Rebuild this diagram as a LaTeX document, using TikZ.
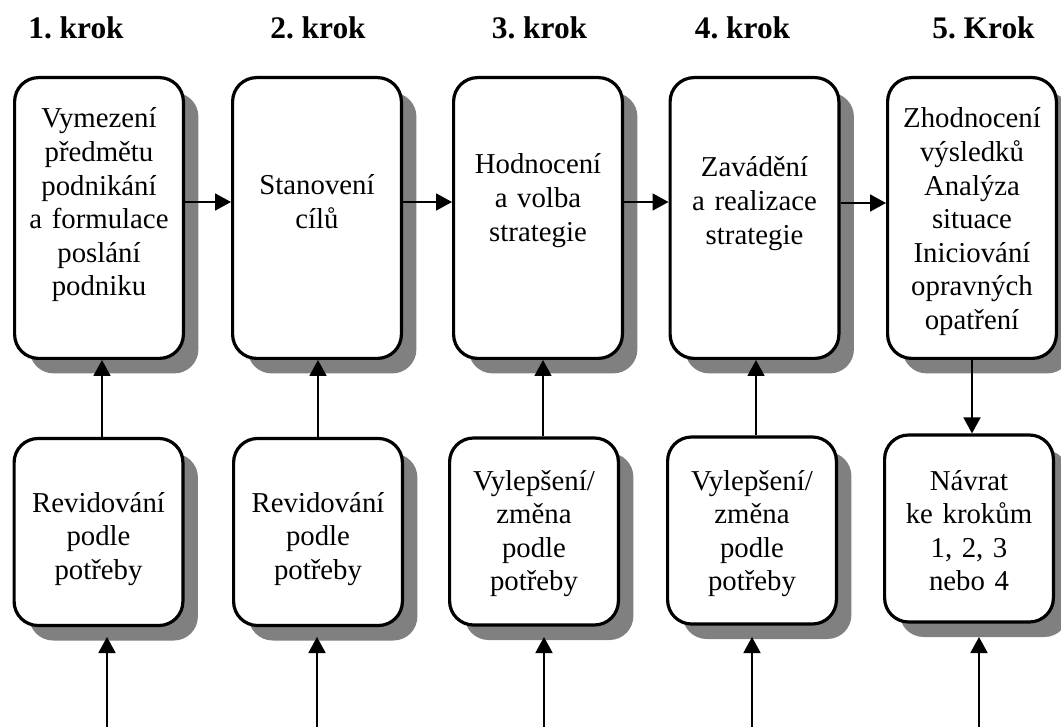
\documentclass[tikz,border=0pt]{standalone}
\usepackage{fontspec}
\setmainfont{Liberation Serif}
\frenchspacing
\usetikzlibrary{arrows.meta}
\usetikzlibrary{shadows}
\usetikzlibrary{positioning}
\tikzset{big node/.style={rectangle,draw,line width=1.6pt,rounded corners=12pt,fill=white,
    minimum width=84.4pt,minimum height=140.4pt,inner sep=0pt,
    drop shadow={shadow xshift=7.5pt,shadow yshift=-7.5pt,fill=black!50,opacity=1}},
  small node/.style={big node,minimum height=93.5pt},
  text node/.style={anchor=base,align=center,text width=84pt,inner sep=0pt,
    font=\fontsize{14.4}{16.8}\selectfont},
  head node/.style={anchor=base,inner sep=0pt,font=\fontsize{15.7}{18}\selectfont\bfseries},
  arrow/.style={-{Triangle[length=8pt,width=8.5pt]},line width=0.9pt},}

\begin{document}
\begin{tikzpicture}[x=0.5pt,y=-0.5pt]
    \useasboundingbox (0,0) rectangle (1061,727);

    % headings
    \node[head node] (h1) at (76,39) {1. krok};
    \node[head node] (h2) at (318,39) {2. krok};
    \node[head node] (h3) at (539.5,39) {3. krok};
    \node[head node] (h4) at (742.5,39) {4. krok};
    \node[head node] (h5) at (983.5,39) {5. Krok};

    % upper row
    \node[big node] (b1) at (99,218) {};
    \node[big node] (b2) at (317,218) {};
    \node[big node] (b3) at (538,218) {};
    \node[big node] (b4) at (754.5,218) {};
    \node[big node] (b5) at (972,218) {};

    \node[text node] (t1) at (99,128) {Vymezení\\ předmětu\\ podnikání\\ a formulace\\ poslání\\ podniku};
    \node[text node] (t2) at (317,195) {Stanovení\\ cílů};
    \node[text node] (t3) at (538,174) {Hodnocení\\ a volba\\ strategie};
    \node[text node] (t4) at (754.5,177) {Zavádění\\ a realizace\\ strategie};
    \node[text node] (t5) at (972,128) {Zhodnocení\\ výsledků\\ Analýza\\ situace\\ Iniciování\\ opravných\\ opatření};

    % lower row
    \node[small node] (r1) at (98.5,532) {};
    \node[small node] (r2) at (318,532) {};
    \node[small node] (r3) at (534,531.5) {};
    \node[small node] (r4) at (752,530.5) {};
    \node[small node] (r5) at (969,528.5) {};

    \node[text node] (s1) at (98.5,512) {Revidování\\ podle\\ potřeby};
    \node[text node] (s2) at (318,512) {Revidování\\ podle\\ potřeby};
    \node[text node] (s3) at (534,490) {Vylepšení/\\ změna\\ podle\\ potřeby};
    \node[text node] (s4) at (752,490) {Vylepšení/\\ změna\\ podle\\ potřeby};
    \node[text node] (s5) at (969,490) {Návrat\\ ke krokům\\ 1, 2, 3\\ nebo 4};

    % columns of the vertical links
    \coordinate (c1) at (102,0);
    \coordinate (c2) at (318,0);
    \coordinate (c3) at (543,0);
    \coordinate (c4) at (756,0);
    \coordinate (c5) at (972,0);

    % loose ends at the bottom
    \coordinate (in1) at (107,727);
    \coordinate (in2) at (317,727);
    \coordinate (in3) at (544,727);
    \coordinate (in4) at (752,727);
    \coordinate (in5) at (979,727);
    \coordinate (tip1) at (107,637);
    \coordinate (tip2) at (317,637);
    \coordinate (tip3) at (544,637);
    \coordinate (tip4) at (752,637);
    \coordinate (tip5) at (979,637);

    \draw[arrow] ([yshift=8pt]b1.east) -- ([yshift=8pt]b2.west);
    \draw[arrow] ([yshift=8pt]b2.east) -- ([yshift=8pt]b3.west);
    \draw[arrow] ([yshift=8pt]b3.east) -- ([yshift=8pt]b4.west);
    \draw[arrow] ([yshift=7.5pt]b4.east) -- ([yshift=7.5pt]b5.west);

    \draw[arrow] (r1.north -| c1) -- (b1.south -| c1);
    \draw[arrow] (r2.north -| c2) -- (b2.south -| c2);
    \draw[arrow] (r3.north -| c3) -- (b3.south -| c3);
    \draw[arrow] (r4.north -| c4) -- (b4.south -| c4);
    \draw[arrow] (b5.south -| c5) -- (r5.north -| c5);

    \draw[arrow] (in1) -- (tip1);
    \draw[arrow] (in2) -- (tip2);
    \draw[arrow] (in3) -- (tip3);
    \draw[arrow] (in4) -- (tip4);
    \draw[arrow] (in5) -- (tip5);
\end{tikzpicture}
\end{document}
